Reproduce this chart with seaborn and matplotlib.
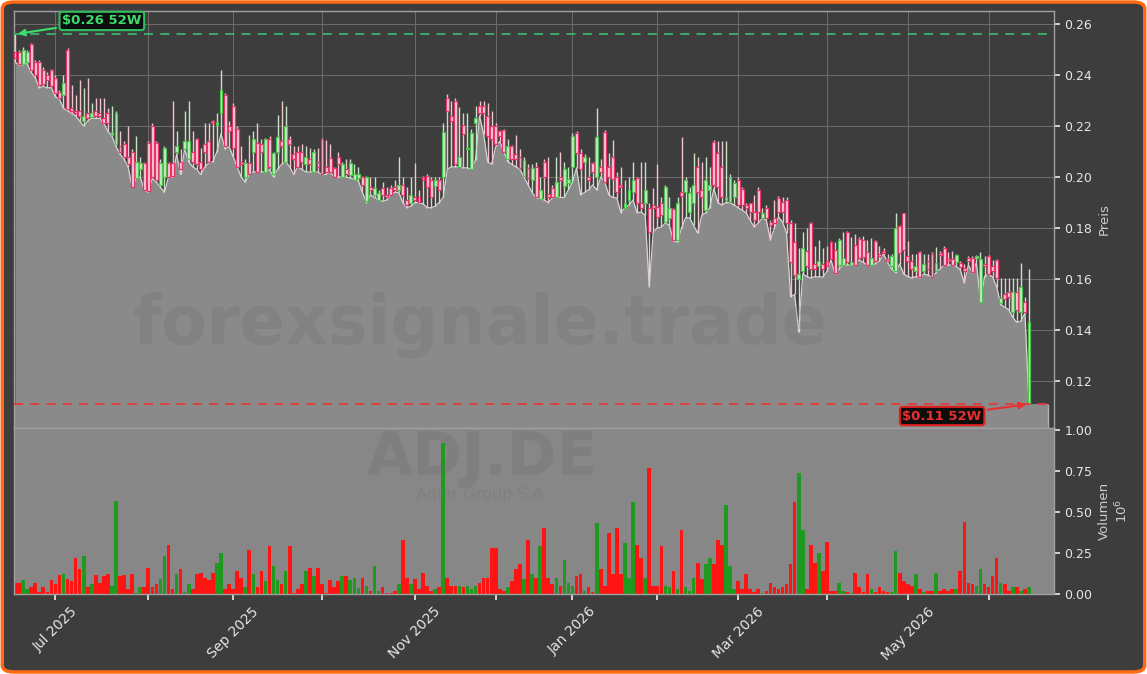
import numpy as np
import pandas as pd
import matplotlib
matplotlib.use('Agg')
import matplotlib.pyplot as plt
import seaborn as sns
from matplotlib.patches import FancyBboxPatch

# Xetra trading days Jun 2025 - Jun 2026
holidays = ['2025-12-24', '2025-12-25', '2025-12-26', '2025-12-31',
            '2026-01-01', '2026-04-03', '2026-04-06', '2026-05-01']
days = pd.bdate_range('2025-06-17', '2026-06-15')
days = days[~days.isin(pd.to_datetime(holidays))]

# prices in 1/1000 EUR
opens = [249, 249, 244.5, 245, 252, 245, 245, 242, 240, 242,
         239, 233.5, 232, 250, 227, 226, 226, 222, 225, 223.5,
         226, 225, 223, 225, 216.5, 213, 212, 213, 208, 210,
         199.5, 203, 205.5, 213.5, 220, 213.5, 197, 200, 205.5, 205.5,
         210, 206, 211, 207, 210, 215, 206, 213, 214, 222,
         220.5, 225, 232, 220, 228, 219, 206, 200, 205.5, 210,
         213.5, 213, 202, 215, 201, 210, 214, 206, 215, 209,
         210, 210, 205, 207, 202, 206, 215, 204, 207.5, 203.6,
         208, 200, 203, 200.8, 199, 199.5, 200, 190.5, 196, 193,
         191, 195.7, 193, 195.7, 196, 195, 197, 191, 190, 192,
         192, 200, 200.4, 199, 196.5, 199, 200, 231, 224, 230,
         204, 220.4, 211, 203, 221, 228, 228, 224, 220, 220,
         218, 218.4, 207, 212, 209, 208, 200.5, 203.6, 198.8, 204,
         191.5, 206, 193.5, 195.7, 192, 200, 196.5, 197.7, 204, 217.3,
         209.4, 206, 200, 205.5, 200, 204, 217.7, 204, 208, 200,
         197, 188, 191, 194, 199.6, 190, 190, 188, 189, 188.3,
         190, 182.4, 184, 187.5, 175.3, 194, 194, 186.3, 190, 204,
         195, 187, 195, 213.7, 209.4, 204, 191, 190.2, 192.2, 199,
         195.3, 189, 189.8, 186.3, 195, 184, 188, 182.4, 184, 191.8,
         190.2, 191, 182, 174.5, 160, 163, 171, 182, 166, 165,
         166, 167, 174.5, 171.4, 165.5, 165.5, 178.4, 165.5, 173.4, 175.7,
         175.3, 170.6, 165.5, 175, 170, 171, 168, 165, 163, 180.8,
         185.9, 169, 167, 163, 170.6, 163, 167, 169.8, 163, 170.2,
         172.2, 168, 168, 166.7, 166.3, 164.3, 168.3, 168.3, 168.3, 151,
         166, 169, 165, 167.5, 150.6, 154, 155, 147, 155, 147,
         151, 111.5]
highs = [256, 250, 251, 250, 252.5, 246, 246, 243, 241, 242.5,
         240, 234, 240, 250.5, 236, 232, 238, 235, 239, 229,
         231, 231, 231, 227, 228, 226, 218, 214, 220, 211,
         216, 208, 206, 214, 221, 214, 207, 212, 206, 230,
         218, 211, 226, 230, 218, 215.5, 211.5, 221, 221, 222.5,
         225, 242, 233, 222, 229, 220, 212, 207, 216.5, 218,
         221, 215, 215.5, 216, 210, 224.3, 230, 228, 216, 212,
         212, 213, 212, 211.5, 211, 211.5, 215.5, 214.5, 213, 204,
         210, 206, 207, 207, 205, 204, 200.5, 200.5, 200, 200,
         195, 198, 196, 197, 199, 208, 200, 196, 200, 205.5,
         195, 200.5, 201, 200, 200, 200, 221, 232.5, 230, 231,
         227.5, 225, 225, 219, 228, 230, 230, 229, 226, 221,
         218.5, 219, 215, 212.5, 216.5, 211, 208, 205, 205, 206,
         200, 207, 208, 197, 208, 210, 206, 204, 217.3, 218,
         211, 209, 208, 206, 227, 207, 218.5, 209.4, 214.5, 202,
         204, 199, 200, 206, 200, 206, 206, 190, 195.7, 205,
         192, 197, 192, 188, 192, 215.7, 200, 196, 209.4, 208,
         206, 208, 204, 214.5, 214, 214, 214, 201, 199, 200,
         196, 190, 190, 193, 196, 188, 189, 183, 191, 192.5,
         192, 192, 183, 182, 172, 178.3, 180, 182.4, 173, 175.3,
         172, 173, 175, 174.5, 176, 178.4, 179, 176.5, 177.5, 176.5,
         177, 175.3, 176, 175.5, 173, 172, 170, 170, 186, 181,
         186, 175, 170, 170, 171, 170, 170, 170.5, 172.6, 171,
         173, 170.5, 171, 170, 167, 166, 169, 169, 169.5, 170.6,
         169, 169.5, 167.5, 168, 160.4, 160.4, 160.4, 160.4, 160.4, 166.3,
         153, 164]
lows = [245, 244, 244, 244.5, 241, 239, 235, 235.5, 235, 235,
        231.5, 230.5, 227, 226, 225, 224, 222, 220, 222, 223,
        223, 223, 221, 218, 216, 212, 209, 207, 204, 196,
        199.5, 200, 195, 194, 199.5, 198, 196, 194, 200, 200,
        209, 201, 211, 206, 204, 203, 201, 204, 205.5, 206,
        210, 217, 211, 212, 208, 204, 200, 198, 201, 202,
        202, 202, 202, 203, 200, 203, 205, 206, 204, 201,
        204, 203, 202, 202, 202, 202, 201, 201, 202, 200,
        200, 200, 200, 199.6, 199, 198.5, 194, 190, 193, 192,
        191, 190.5, 191, 193, 194, 194, 190, 188, 188.5, 190,
        190, 189.5, 188, 188, 188.5, 190, 192, 203, 204, 204,
        204, 203.6, 203.6, 203, 206.7, 224, 217, 206, 205, 212,
        214, 210, 206, 205, 204, 203, 200, 197, 194, 191.8,
        191.5, 191, 190, 191.8, 192, 192, 192, 195, 198, 203.6,
        193, 194, 195, 196.9, 195, 200, 198, 193, 192, 191.8,
        186, 188, 189, 191, 186, 186.3, 185, 157, 178.5, 180,
        180.4, 182, 181, 175, 174.5, 180, 184, 184, 181, 178,
        185, 186, 188, 195.5, 190, 189, 190, 190, 189, 188,
        187, 186, 183, 180.4, 182, 184, 183, 175.3, 180, 184.3,
        182.4, 178, 153, 154, 139.3, 162, 161, 160.4, 161, 160.8,
        160.8, 163, 167.5, 162, 164, 165.5, 165.5, 165.5, 165.5, 167.5,
        166.5, 165.5, 165.5, 166, 167, 170, 166.5, 164, 162.5, 166,
        162, 161, 160.4, 161, 160.4, 162, 161.5, 160.8, 162.5, 164,
        165.5, 165.5, 165.5, 165, 163.6, 158.5, 165.5, 162.4, 166.5, 151,
        161, 162, 160.8, 157, 150, 149, 148, 145, 143, 143.5,
        146.7, 111]
closes = [246.5, 244.5, 250, 249, 242, 240, 236, 236.5, 238, 235.5,
          233, 231, 237, 226.5, 226, 225, 224, 224, 223, 225,
          224, 224, 221, 221, 217.5, 225, 210, 208, 205, 196,
          206, 205.5, 195, 194.5, 200, 199, 205.5, 211.5, 200, 200.5,
          212, 203, 214, 214, 206, 205, 203, 210, 206, 221,
          221.5, 234, 212, 218, 211.5, 204, 205, 205.5, 201, 215,
          202, 210, 215, 204, 209.5, 215.7, 212, 220, 213, 207,
          204, 206, 208, 205, 210, 204, 201, 202, 202, 200,
          205, 205, 201, 205.5, 201, 201, 197, 200, 195, 195.7,
          193.7, 193, 192, 193, 195, 197, 193, 189, 193, 191,
          190.2, 199, 196, 192, 199, 195, 217.7, 226, 222, 205,
          208, 217, 211.3, 217.3, 223, 225, 225, 216, 215, 213,
          216, 210, 212, 207, 207, 203.5, 206.7, 199.6, 203.6, 192,
          195, 200, 192, 192, 198, 199, 203, 199.2, 216, 209.4,
          203, 208, 199, 202, 215.7, 202, 198, 200, 199.2, 194,
          196, 190, 195, 199, 190, 188, 195, 178.5, 188, 184.3,
          185, 196, 188, 175.3, 189.8, 192.6, 199, 193.8, 197, 194,
          192, 199, 197, 197, 196, 192, 192, 200, 197.7, 189,
          189, 188, 186.3, 183.2, 186.3, 186, 184, 181, 182, 186.3,
          186.3, 182, 166.7, 161.6, 162, 172, 165, 164, 164, 167,
          164, 165, 168, 162.4, 175.3, 168.3, 166.7, 166.7, 165.5, 168.3,
          168.7, 165.5, 168.3, 167.1, 169, 170.2, 167, 169, 180, 170.2,
          171.4, 167, 164, 165, 161, 166, 164, 161, 166.3, 169.4,
          165.5, 167, 165.5, 169.4, 164.7, 163.2, 167, 162.8, 169, 168,
          165, 162, 163, 160.4, 152.6, 152.2, 153, 155, 148, 157,
          147, 143]
# volume in millions of shares
volumes = [0.067, 0.067, 0.085, 0.03, 0.04, 0.067, 0.015, 0.04, 0.015, 0.085,
           0.06, 0.116, 0.12, 0.09, 0.08, 0.22, 0.15, 0.23, 0.045, 0.06,
           0.116, 0.07, 0.11, 0.12, 0.05, 0.57, 0.11, 0.116, 0.03, 0.12,
           0.005, 0.045, 0.04, 0.16, 0.04, 0.06, 0.09, 0.23, 0.30, 0.03,
           0.12, 0.15, 0.01, 0.06, 0.03, 0.12, 0.125, 0.10, 0.085, 0.13,
           0.19, 0.25, 0.03, 0.06, 0.03, 0.14, 0.10, 0.04, 0.27, 0.12,
           0.04, 0.14, 0.08, 0.29, 0.17, 0.085, 0.06, 0.14, 0.29, 0.005,
           0.03, 0.06, 0.14, 0.16, 0.11, 0.16, 0.06, 0.005, 0.085, 0.04,
           0.08, 0.11, 0.11, 0.085, 0.10, 0.035, 0.10, 0.05, 0.02, 0.17,
           0.02, 0.045, 0.005, 0.005, 0.02, 0.06, 0.33, 0.10, 0.06, 0.09,
           0.03, 0.13, 0.05, 0.02, 0.03, 0.04, 0.92, 0.10, 0.05, 0.05,
           0.05, 0.04, 0.05, 0.03, 0.05, 0.07, 0.10, 0.10, 0.28, 0.28,
           0.03, 0.02, 0.04, 0.08, 0.15, 0.18, 0.09, 0.33, 0.12, 0.10,
           0.29, 0.40, 0.10, 0.06, 0.10, 0.05, 0.21, 0.07, 0.05, 0.11,
           0.12, 0.02, 0.04, 0.01, 0.43, 0.15, 0.05, 0.37, 0.12, 0.40,
           0.12, 0.31, 0.10, 0.56, 0.30, 0.22, 0.10, 0.77, 0.05, 0.05,
           0.29, 0.05, 0.04, 0.14, 0.03, 0.39, 0.04, 0.02, 0.10, 0.19,
           0.09, 0.18, 0.22, 0.18, 0.33, 0.30, 0.54, 0.17, 0.03, 0.08,
           0.03, 0.12, 0.03, 0.01, 0.03, 0.005, 0.02, 0.07, 0.04, 0.03,
           0.04, 0.06, 0.18, 0.56, 0.74, 0.39, 0.03, 0.30, 0.19, 0.25,
           0.14, 0.32, 0.02, 0.02, 0.07, 0.02, 0.01, 0.005, 0.13, 0.04,
           0.01, 0.12, 0.03, 0.01, 0.04, 0.02, 0.01, 0.01, 0.26, 0.13,
           0.08, 0.06, 0.05, 0.12, 0.03, 0.01, 0.02, 0.02, 0.13, 0.02,
           0.03, 0.02, 0.03, 0.03, 0.14, 0.44, 0.07, 0.06, 0.05, 0.15,
           0.06, 0.04, 0.11, 0.22, 0.07, 0.06, 0.02, 0.04, 0.04, 0.02,
           0.03, 0.04]

o = np.array(opens) / 1000
h = np.array(highs) / 1000
l = np.array(lows) / 1000
c = np.array(closes) / 1000
v = np.array(volumes)
n = len(c)
x = np.arange(n)
days = days[:n]
up = c >= o

hi = h.max()
lo = l.min()

sns.set_theme(style='dark')
plt.rcParams['font.family'] = ['DejaVu Sans']
plt.rcParams['axes.edgecolor'] = '#a0a0a0'

fig = plt.figure(figsize=(11.47, 6.74), dpi=100)
fig.patch.set_facecolor('white')
fig.patches.append(FancyBboxPatch((0.002, 0.003), 0.996, 0.994,
                                  boxstyle='round,pad=0,rounding_size=0.01',
                                  transform=fig.transFigure, facecolor='#3d3d3d',
                                  edgecolor='#ff6a10', linewidth=2.5, zorder=-10))

W, H = 1147, 674
axp = fig.add_axes([14 / W, 1 - 428 / H, 1040 / W, 417 / H])
axv = fig.add_axes([14 / W, 1 - 594 / H, 1040 / W, 166 / H], sharex=axp)

ybot, ytop = 0.1016, 0.2651

# price panel
axp.set_facecolor('#3d3d3d')
axp.fill_between(x, l, ybot, color='#8a8a8a', lw=0, zorder=1)
axp.fill_between([-0.25, n + 3.6], ybot, lo, color='#8a8a8a', lw=0, zorder=1)
axp.vlines(n + 3.6, ybot, lo, color='#b0b0b0', lw=1, zorder=1)
sns.lineplot(x=x, y=l, ax=axp, color='#d6d6d6', lw=0.9, zorder=2)

axp.vlines(x, l, h, colors=np.where(up, '#c4e4c4', '#f2c4d0'), lw=1, zorder=3)
body_b = np.minimum(o, c)
body_h = np.maximum(np.abs(c - o), 0.0004)
axp.bar(x, body_h, bottom=body_b, width=0.72,
        color=np.where(up, '#cfe9cf', '#f6d2dc'),
        edgecolor=np.where(up, '#4cc44c', '#e8336a'), linewidth=0.9, zorder=4)

axp.axhline(hi, color='#3cb371', ls=(0, (5, 4)), lw=1.3, zorder=5)
axp.axhline(lo, color='#e03b3b', ls=(0, (5, 4)), lw=1.3, zorder=5)

axp.annotate('\\$%.2f 52W' % hi, xy=(0, hi), xytext=(21.5, 0.2612),
             ha='center', va='center', fontsize=9.5, fontweight='bold', color='#3ddc6e',
             bbox=dict(boxstyle='round,pad=0.2', fc='#0d0d0d', ec='#2fbf5f', lw=1.5),
             arrowprops=dict(arrowstyle='-|>', color='#3ddc6e', lw=1.5, mutation_scale=10),
             zorder=6)
axp.annotate('\\$%.2f 52W' % lo, xy=(n - 1, lo), xytext=(229.5, 0.1063),
             ha='center', va='center', fontsize=9.5, fontweight='bold', color='#e83030',
             bbox=dict(boxstyle='round,pad=0.2', fc='#0d0d0d', ec='#e02020', lw=1.5),
             arrowprops=dict(arrowstyle='-|>', color='#e83030', lw=1.5, mutation_scale=10),
             zorder=6)

axp.set_ylim(ybot, ytop)
axp.set_yticks(np.arange(0.12, 0.261, 0.02))
axp.yaxis.set_major_formatter(matplotlib.ticker.FormatStrFormatter('%.2f'))
axp.yaxis.tick_right()
axp.yaxis.set_label_position('right')
axp.set_ylabel('Preis', color='#cccccc', fontsize=9.5)
axp.grid(True, color='#6c6c6c', lw=0.7)
axp.set_axisbelow(True)

# volume panel
axv.set_facecolor('#878787')
sns.barplot(x=x, y=v, hue=np.where(up, 'up', 'down'),
            palette={'up': '#1f9a1f', 'down': '#ff1414'}, dodge=False, width=0.9,
            native_scale=True, errorbar=None, legend=False, saturation=1,
            linewidth=0, ax=axv)
axv.set_ylim(0, 1.012)
axv.set_yticks([0, 0.25, 0.5, 0.75, 1.0])
axv.yaxis.set_major_formatter(matplotlib.ticker.FormatStrFormatter('%.2f'))
axv.yaxis.tick_right()
axv.yaxis.set_label_position('right')
axv.set_ylabel('Volumen\n$10^{6}$', color='#cccccc', fontsize=9.5)
axv.grid(False)

# month ticks
month_idx = [i for i in range(1, n) if days[i].month != days[i - 1].month]
month_lab = [days[i].strftime('%b %Y') if days[i].month % 2 == 1 else '' for i in month_idx]
axv.set_xticks(month_idx)
axv.set_xticklabels(month_lab, rotation=45)
axv.set_xlim(-0.25, 257.2)
axv.set_xlabel('')

axp.tick_params(axis='x', length=0, labelbottom=False)
for ax in (axp, axv):
    ax.tick_params(axis='y', colors='#e6e6e6', labelsize=9, length=4, right=True)
    for s in ax.spines.values():
        s.set_color('#a0a0a0')
        s.set_linewidth(1)
axv.tick_params(axis='x', colors='#e6e6e6', labelsize=10, length=4, bottom=True)

# watermark
fig.text(480 / W, 1 - 325 / H, 'forexsignale.trade', fontsize=48, fontweight='bold',
         color='#626262', alpha=0.2, ha='center', va='center')
fig.text(482 / W, 1 - 459 / H, 'ADJ.DE', fontsize=43, fontweight='bold',
         color='#626262', alpha=0.2, ha='center', va='center')
fig.text(482 / W, 1 - 494 / H, 'Adler Group S.A.', fontsize=11.5,
         color='#626262', alpha=0.2, ha='center', va='center')

fig.savefig('out.png', dpi=100, facecolor=fig.get_facecolor())
